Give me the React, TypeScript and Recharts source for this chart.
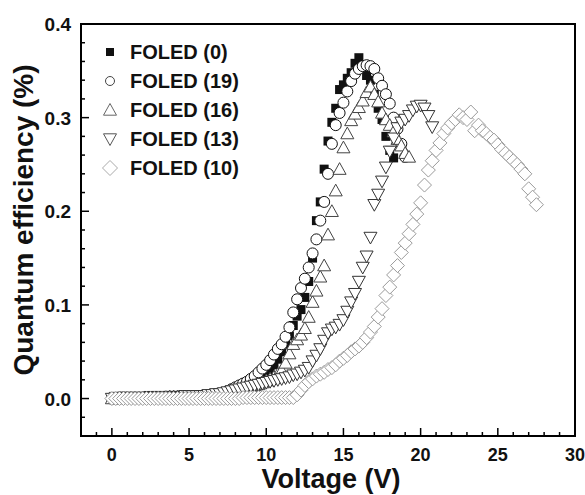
import React from 'react';
import { ScatterChart, Scatter, XAxis, YAxis, ReferenceArea, Legend } from 'recharts';

// applied voltage (V), shared by all devices
const volts = [
  0, 0.25, 0.5, 0.75, 1, 1.25, 1.5, 1.75, 2, 2.25, 2.5, 2.75, 3, 3.25, 3.5, 3.75,
  4, 4.25, 4.5, 4.75, 5, 5.25, 5.5, 5.75, 6, 6.25, 6.5, 6.75, 7, 7.25, 7.5, 7.75,
  8, 8.25, 8.5, 8.75, 9, 9.25, 9.5, 9.75, 10, 10.25, 10.5, 10.75, 11, 11.25, 11.5, 11.75,
  12, 12.25, 12.5, 12.75, 13, 13.25, 13.5, 13.75, 14, 14.25, 14.5, 14.75, 15, 15.25, 15.5, 15.75,
  16, 16.25, 16.5, 16.75, 17, 17.25, 17.5, 17.75, 18, 18.25, 18.5, 18.75, 19, 19.25, 19.5, 19.75,
  20, 20.25, 20.5, 20.75, 21, 21.25, 21.5, 21.75, 22, 22.25, 22.5, 22.75, 23, 23.25, 23.5, 23.75,
  24, 24.25, 24.5, 24.75, 25, 25.25, 25.5, 25.75, 26, 26.25, 26.5, 26.75, 27, 27.25, 27.5,
];

// quantum efficiency (%) per device
const qFoled0 = [
  0.000, 0.000, 0.001, 0.001, 0.001, 0.001, 0.001, 0.001, 0.001, 0.001, 0.001, 0.001,
  0.001, 0.001, 0.001, 0.001, 0.001, 0.002, 0.002, 0.002, 0.002, 0.002, 0.002, 0.002,
  0.002, 0.003, 0.003, 0.003, 0.004, 0.004, 0.005, 0.006, 0.007, 0.008, 0.009, 0.011,
  0.012, 0.014, 0.016, 0.019, 0.024, 0.030, 0.036, 0.042, 0.050, 0.058, 0.067, 0.078,
  0.088, 0.095, 0.108, 0.125, 0.150, 0.190, 0.210, 0.245, 0.275, 0.295, 0.310, 0.330,
  0.335, 0.342, 0.348, 0.358, 0.364, 0.356, 0.345, 0.340, 0.325, 0.310, 0.298, 0.280,
  0.265, 0.257,
];

const qFoled19 = [
  0.000, 0.000, 0.001, 0.001, 0.001, 0.001, 0.001, 0.001, 0.001, 0.001, 0.001, 0.001,
  0.001, 0.001, 0.002, 0.002, 0.002, 0.002, 0.002, 0.002, 0.002, 0.002, 0.002, 0.002,
  0.002, 0.003, 0.004, 0.004, 0.005, 0.006, 0.008, 0.010, 0.012, 0.014, 0.016, 0.018,
  0.021, 0.024, 0.028, 0.032, 0.036, 0.041, 0.047, 0.053, 0.058, 0.066, 0.076, 0.092,
  0.106, 0.118, 0.128, 0.140, 0.155, 0.170, 0.190, 0.210, 0.240, 0.272, 0.292, 0.305,
  0.316, 0.328, 0.339, 0.347, 0.352, 0.355, 0.356, 0.355, 0.352, 0.342, 0.334, 0.325,
  0.315, 0.300, 0.288, 0.272, 0.258,
];

const qFoled16 = [
  0.000, 0.000, 0.001, 0.001, 0.001, 0.001, 0.001, 0.001, 0.001, 0.001, 0.001, 0.001,
  0.001, 0.001, 0.001, 0.002, 0.002, 0.002, 0.002, 0.002, 0.002, 0.002, 0.002, 0.002,
  0.002, 0.003, 0.003, 0.004, 0.004, 0.005, 0.006, 0.007, 0.008, 0.009, 0.010, 0.011,
  0.012, 0.014, 0.015, 0.017, 0.019, 0.021, 0.023, 0.026, 0.030, 0.038, 0.048, 0.058,
  0.063, 0.068, 0.075, 0.087, 0.103, 0.115, 0.130, 0.142, 0.175, 0.200, 0.222, 0.245,
  0.268, 0.283, 0.297, 0.304, 0.311, 0.318, 0.327, 0.333, 0.325, 0.317, 0.305, 0.298,
  0.292, 0.285, 0.277, 0.270, 0.262, 0.258,
];

const qFoled13 = [
  0.000, 0.001, 0.001, 0.001, 0.001, 0.001, 0.001, 0.001, 0.001, 0.001, 0.002, 0.002,
  0.002, 0.002, 0.002, 0.002, 0.002, 0.002, 0.002, 0.003, 0.003, 0.003, 0.003, 0.003,
  0.003, 0.004, 0.004, 0.005, 0.005, 0.006, 0.007, 0.008, 0.009, 0.010, 0.011, 0.012,
  0.013, 0.014, 0.015, 0.016, 0.017, 0.018, 0.019, 0.020, 0.021, 0.022, 0.023, 0.025,
  0.026, 0.028, 0.030, 0.033, 0.040, 0.046, 0.053, 0.062, 0.070, 0.074, 0.076, 0.079,
  0.084, 0.093, 0.103, 0.112, 0.125, 0.140, 0.152, 0.172, 0.207, 0.218, 0.232, 0.247,
  0.264, 0.278, 0.289, 0.295, 0.298, 0.302, 0.308, 0.312, 0.313, 0.310, 0.302, 0.290,
];

const qFoled10 = [
  0.000, 0.000, 0.000, 0.000, 0.000, 0.000, 0.000, 0.000, 0.000, 0.000, 0.000, 0.000,
  0.000, 0.000, 0.000, 0.000, 0.000, 0.000, 0.000, 0.000, 0.000, 0.000, 0.000, 0.000,
  0.000, 0.000, 0.000, 0.000, 0.000, 0.000, 0.000, 0.000, 0.000, 0.000, 0.001, 0.001,
  0.001, 0.001, 0.001, 0.001, 0.001, 0.001, 0.001, 0.001, 0.001, 0.001, 0.001, 0.001,
  0.004, 0.009, 0.014, 0.018, 0.021, 0.024, 0.026, 0.028, 0.031, 0.033, 0.036, 0.040,
  0.043, 0.046, 0.050, 0.053, 0.056, 0.060, 0.065, 0.071, 0.077, 0.087, 0.096, 0.110,
  0.119, 0.132, 0.142, 0.156, 0.166, 0.176, 0.186, 0.197, 0.209, 0.228, 0.244, 0.254,
  0.265, 0.273, 0.283, 0.289, 0.294, 0.298, 0.303, 0.300, 0.298, 0.306, 0.286, 0.292,
  0.286, 0.283, 0.279, 0.276, 0.271, 0.266, 0.262, 0.258, 0.254, 0.250, 0.245, 0.240,
  0.224, 0.215, 0.207,
];

const seriesNames = ['FOLED (0)', 'FOLED (19)', 'FOLED (16)', 'FOLED (13)', 'FOLED (10)'];

const xTicks = [-1, 0, 1, 2, 3, 4, 5, 6, 7, 8, 9, 10, 11, 12, 13, 14, 15, 16, 17, 18, 19, 20, 21, 22, 23, 24, 25, 26, 27, 28, 29, 30];
const xMajor = [0, 5, 10, 15, 20, 25, 30];
const yTicks = [-0.02, 0, 0.02, 0.04, 0.06, 0.08, 0.1, 0.12, 0.14, 0.16, 0.18, 0.2, 0.22, 0.24, 0.26, 0.28, 0.3, 0.32, 0.34, 0.36, 0.38, 0.4];
const yMajor = [0, 0.1, 0.2, 0.3, 0.4];

const FONT = '"Liberation Sans", Arial, sans-serif';
const LEFT = 81;
const BOTTOM = 436;

const toPoints = (qs: number[]) => qs.map((q, i) => ({ v: volts[i], q }));

const isMajor = (list: number[], v: number) => list.some(m => Math.abs(m - v) < 1e-6);

// marker shapes
const Square = ({ cx, cy, size = 9 }: any) => (
  <rect x={cx - size / 2} y={cy - size / 2} width={size} height={size} fill="#111" />
);
const Circle = ({ cx, cy, r = 5.5, stroke = '#111' }: any) => (
  <circle cx={cx} cy={cy} r={r} fill="#fff" stroke={stroke} strokeWidth={1} />
);
const TriUp = ({ cx, cy, s = 6.5, stroke = '#444' }: any) => (
  <polygon
    points={`${cx},${cy - s} ${cx + s},${cy + s * 0.8} ${cx - s},${cy + s * 0.8}`}
    fill="#fff"
    stroke={stroke}
    strokeWidth={1}
  />
);
const TriDown = ({ cx, cy, s = 6.5, stroke = '#333' }: any) => (
  <polygon
    points={`${cx},${cy + s} ${cx + s},${cy - s * 0.8} ${cx - s},${cy - s * 0.8}`}
    fill="#fff"
    stroke={stroke}
    strokeWidth={1}
  />
);
const Diamond = ({ cx, cy, s = 7, stroke = '#9a9a9a' }: any) => (
  <polygon
    points={`${cx},${cy - s} ${cx + s},${cy} ${cx},${cy + s} ${cx - s},${cy}`}
    fill="#fff"
    stroke={stroke}
    strokeWidth={1}
  />
);

const XTick = ({ x, payload }: any) => {
  const major = isMajor(xMajor, payload.value);
  return (
    <g>
      <line x1={x} x2={x} y1={BOTTOM} y2={BOTTOM - (major ? 8 : 4)} stroke="#000" strokeWidth={1.5} />
      {major && (
        <text x={x} y={BOTTOM + 25} textAnchor="middle" fontFamily={FONT} fontWeight="bold" fontSize={18} fill="#111">
          {payload.value}
        </text>
      )}
    </g>
  );
};

const YTick = ({ y, payload }: any) => {
  const major = isMajor(yMajor, payload.value);
  return (
    <g>
      <line x1={LEFT} x2={LEFT + (major ? 8 : 4)} y1={y} y2={y} stroke="#000" strokeWidth={1.5} />
      {major && (
        <text x={LEFT - 10} y={y + 7} textAnchor="end" fontFamily={FONT} fontWeight="bold" fontSize={19} fill="#111">
          {payload.value.toFixed(1)}
        </text>
      )}
    </g>
  );
};

const legendSymbols = [
  <Square cx={8} cy={10} size={8} />,
  <Circle cx={8} cy={10} r={4.5} stroke="#444" />,
  <TriUp cx={8} cy={10} s={6.5} stroke="#666" />,
  <TriDown cx={8} cy={10} s={6.5} stroke="#555" />,
  <Diamond cx={8} cy={10} s={7.5} stroke="#aaa" />,
];

const LegendBox = () => (
  <div style={{ fontFamily: FONT, fontWeight: 'bold', fontSize: 20, color: '#111' }}>
    {seriesNames.map((name, i) => (
      <div key={name} style={{ display: 'flex', alignItems: 'center', height: 29.2 }}>
        <svg width={16} height={20} style={{ overflow: 'visible' }}>{legendSymbols[i]}</svg>
        <span style={{ marginLeft: 12, lineHeight: '20px' }}>{name}</span>
      </div>
    ))}
  </div>
);

export default function App() {
  return (
    <div style={{ position: 'absolute', left: 0, top: 0, width: 585, height: 495, background: '#fff' }}>
      <ScatterChart width={585} height={495} margin={{ top: 24, right: 10, bottom: 0, left: 0 }}>
        <XAxis
          type="number"
          dataKey="v"
          domain={[-2, 30]}
          ticks={xTicks}
          interval={0}
          height={59}
          tickLine={false}
          axisLine={false}
          tick={<XTick />}
          allowDataOverflow
        />
        <YAxis
          type="number"
          dataKey="q"
          domain={[-0.04, 0.4]}
          ticks={yTicks}
          interval={0}
          width={LEFT}
          tickLine={false}
          axisLine={false}
          tick={<YTick />}
          allowDataOverflow
        />
        <ReferenceArea x1={-2} x2={30} y1={-0.04} y2={0.4} fill="none" stroke="#000" strokeWidth={2} />
        <Scatter name={seriesNames[0]} data={toPoints(qFoled0)} shape={(p: any) => <Square cx={p.cx} cy={p.cy} />} isAnimationActive={false} />
        <Scatter name={seriesNames[1]} data={toPoints(qFoled19)} shape={(p: any) => <Circle cx={p.cx} cy={p.cy} />} isAnimationActive={false} />
        <Scatter name={seriesNames[2]} data={toPoints(qFoled16)} shape={(p: any) => <TriUp cx={p.cx} cy={p.cy} />} isAnimationActive={false} />
        <Scatter name={seriesNames[3]} data={toPoints(qFoled13)} shape={(p: any) => <TriDown cx={p.cx} cy={p.cy} />} isAnimationActive={false} />
        <Scatter name={seriesNames[4]} data={toPoints(qFoled10)} shape={(p: any) => <Diamond cx={p.cx} cy={p.cy} />} isAnimationActive={false} />
        <Legend
          layout="vertical"
          align="center"
          verticalAlign="middle"
          content={<LegendBox />}
          wrapperStyle={{ left: 102, top: 37, width: 'auto', height: 'auto' }}
        />
        <text x={33} y={220} transform="rotate(-90 33 220)" textAnchor="middle" fontFamily={FONT} fontWeight="bold" fontSize={28} fill="#111">
          Quantum efficiency (%)
        </text>
        <text x={331} y={488} textAnchor="middle" fontFamily={FONT} fontWeight="bold" fontSize={27} fill="#111">
          Voltage (V)
        </text>
      </ScatterChart>
    </div>
  );
}
